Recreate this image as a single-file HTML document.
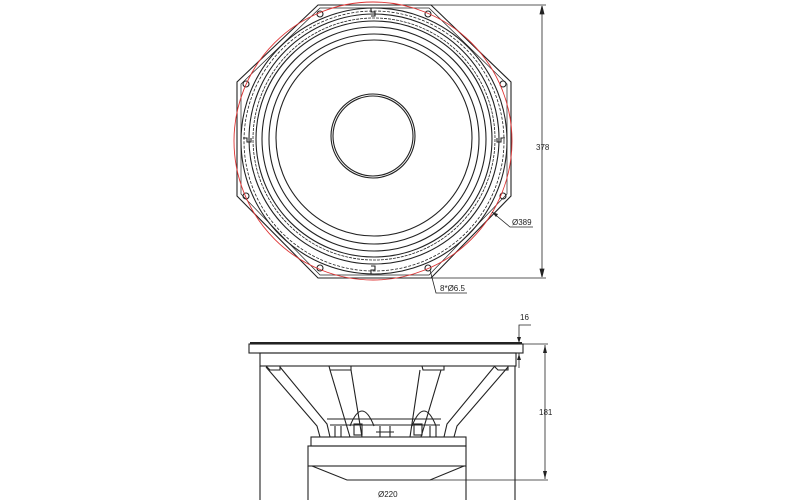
<!DOCTYPE html>
<html><head><meta charset="utf-8"><style>html,body{margin:0;padding:0;background:#fff}svg{display:block}</style></head>
<body>
<svg width="800" height="500" viewBox="0 0 800 500" xmlns="http://www.w3.org/2000/svg" font-family="Liberation Sans, sans-serif">
<g fill="none" stroke="#222" stroke-width="1.1">
<polygon points="318,5 431,5 511,82 511,196 431,278 318,278 237,196 237,82"/>
<polygon points="320,8 429,8 507,84 507,194 429,275 320,275 241,194 241,84" stroke-width="0.7"/>
<circle cx="374" cy="141" r="133"/>
<circle cx="374" cy="141" r="130" stroke-dasharray="3,1.5" stroke-width="0.8"/>
<circle cx="374" cy="139" r="125"/>
<circle cx="374" cy="139" r="121" stroke-dasharray="3,1" stroke-width="0.8"/>
<circle cx="374" cy="139" r="118"/>
<circle cx="374" cy="139" r="112"/>
<circle cx="374" cy="139" r="105"/>
<circle cx="374" cy="138" r="98"/>
<circle cx="373" cy="136" r="42"/>
<circle cx="373" cy="136" r="40"/>
<circle cx="320" cy="14" r="3"/><circle cx="428" cy="14" r="3"/>
<circle cx="503" cy="196" r="3"/><circle cx="246" cy="84" r="3"/>
<circle cx="428" cy="268" r="3"/><circle cx="320" cy="268" r="3"/>
<circle cx="246" cy="196" r="3"/><circle cx="503" cy="84" r="3"/>
<path d="M371,8 v4 h4 v4 h-4"/><path d="M371,274 v-4 h4 v-4 h-4"/>
<path d="M243,138 h4 v4 h4 v-4"/><path d="M505,138 h-4 v4 h-4 v-4"/>
</g>
<circle cx="373" cy="141" r="139" fill="none" stroke="#d33" stroke-width="0.9"/>
<g stroke="#222" stroke-width="0.8" fill="none">
<line x1="431" y1="5" x2="546" y2="5"/><line x1="431" y1="278" x2="546" y2="278"/>
<line x1="542" y1="6" x2="542" y2="277"/>
<path d="M542,6 l-2,8 h4z M542,277 l-2,-8 h4z" fill="#222"/>
<polyline points="492,212 510,227 533,227"/>
<polyline points="430,270 436,293 467,293"/>
</g>
<path d="M492,212 l6,2 -2,3z" fill="#222"/>
<g font-size="8" fill="#222">
<text x="536" y="150">378</text>
<text x="512" y="225">Ø389</text>
<text x="440" y="291">8*Ø6.5</text>
<text x="520" y="320">16</text>
<text x="539" y="415">181</text>
<text x="378" y="497">Ø220</text>
</g>
<g fill="none" stroke="#222" stroke-width="1.1">
<rect x="249" y="344" width="274" height="9" fill="#fff"/>
<line x1="250" y1="343" x2="522" y2="343" stroke-width="2"/>
<rect x="260" y="353" width="256" height="13"/>
<line x1="260" y1="366" x2="260" y2="500"/><line x1="515" y1="366" x2="515" y2="500"/>
<path d="M266,366 h14 v4 h-10z M329,366 h22 v4 h-21z M422,366 h22 v4 h-21z M494,366 h14 v4 h-10z"/>
<path d="M266,367 L317,426 L320,437 M280,367 L327,424 L330,437"/>
<path d="M330,370 L350,437 M351,370 L362,437"/>
<path d="M441,370 L421,437 M420,370 L410,437"/>
<path d="M508,367 L457,426 L454,437 M494,367 L447,424 L444,437"/>
<path d="M327,419 h114 M330,425 h110"/>
<path d="M350,426 q12,-30 24,0 M412,426 q12,-30 24,0"/>
<rect x="354" y="424" width="8" height="11"/><rect x="414" y="424" width="8" height="11"/>
<path d="M335,426 v11 M341,426 v11 M380,426 v11 M390,426 v11 M430,426 v11 M436,426 v11 M376,432 h18"/>
<rect x="311" y="437" width="155" height="9"/>
<rect x="308" y="446" width="158" height="20"/>
<path d="M312,466 L347,480 L430,480 L464,466"/>
<line x1="308" y1="466" x2="308" y2="500"/><line x1="466" y1="466" x2="466" y2="500"/>
</g>
<g stroke="#222" stroke-width="0.8" fill="none">
<line x1="523" y1="344" x2="548" y2="344"/>
<line x1="347" y1="480" x2="548" y2="480"/>
<line x1="545" y1="345" x2="545" y2="479"/>
<polyline points="519,338 519,325 531,325"/>
<line x1="519" y1="353" x2="519" y2="368"/>
</g>
<path d="M545,345 l-2,8 h4z M545,479 l-2,-8 h4z M519,343 l-2,-6 h4z M519,354 l-2,6 h4z" fill="#222"/>
</svg>
</body></html>
